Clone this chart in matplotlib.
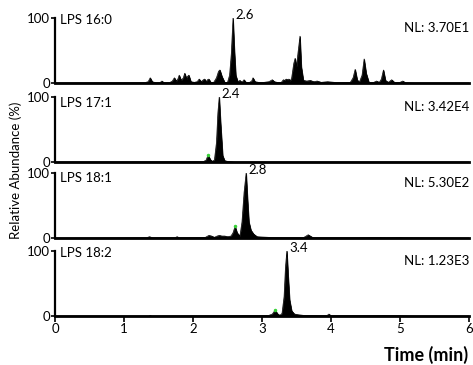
import matplotlib
matplotlib.use("Agg")
import matplotlib.pyplot as plt
import numpy as np

# =========================================================
# DATA
# =========================================================
names = ["LPS 16:0", "LPS 17:1", "LPS 18:1", "LPS 18:2"]
nl_labels = ["NL: 3.70E1", "NL: 3.42E4", "NL: 5.30E2", "NL: 1.23E3"]
peak_labels = ["2.6", "2.4", "2.8", "3.4"]

t_16_0 = [0.0, 1.30, 1.35, 1.38, 1.41, 1.46, 1.52, 1.55, 1.58, 1.66, 1.70, 1.73, 1.76, 1.78,
          1.80, 1.83, 1.86, 1.88, 1.91, 1.92, 1.94, 1.97, 2.02, 2.06, 2.09, 2.12, 2.15, 2.17,
          2.19, 2.21, 2.23, 2.26, 2.30, 2.34, 2.37, 2.39, 2.42, 2.46, 2.50, 2.53, 2.555, 2.58,
          2.60, 2.62, 2.65, 2.68, 2.71, 2.74, 2.77, 2.82, 2.85, 2.87, 2.90, 2.95, 3.03, 3.10,
          3.15, 3.18, 3.22, 3.28, 3.31, 3.33, 3.35, 3.37, 3.39, 3.41, 3.43, 3.46, 3.48, 3.50,
          3.52, 3.55, 3.57, 3.60, 3.65, 3.70, 3.75, 3.80, 3.86, 3.95, 4.10, 4.28, 4.32, 4.35,
          4.38, 4.41, 4.45, 4.48, 4.51, 4.55, 4.62, 4.66, 4.70, 4.73, 4.76, 4.79, 4.83, 4.88,
          4.92, 5.00, 5.04, 5.08, 5.20, 6.0]
y_16_0 = [0, 0.5, 2, 8, 2, 0.5, 0.5, 3, 0.5, 0.5, 3, 8, 3, 6,
          12, 4, 8, 15, 6, 10, 12, 2, 1, 2, 6, 2, 5, 6,
          2, 5, 6, 1, 1, 8, 18, 20, 10, 1, 1, 12, 45, 100,
          50, 12, 2, 4, 1, 5, 1, 1, 3, 8, 2, 1, 1, 2,
          5, 2, 1, 1, 5, 4, 6, 5, 6, 3, 8, 30, 38, 25,
          45, 72, 25, 4, 3, 4, 2, 3, 1, 2, 0.5, 1, 8, 21,
          5, 1, 12, 37, 15, 1, 1, 3, 1, 6, 20, 4, 1, 5,
          1, 1, 3, 0.5, 0, 0]

t_17_1 = [0.0, 2.15, 2.19, 2.22, 2.25, 2.28, 2.31, 2.34, 2.36, 2.38, 2.40, 2.43, 2.46, 2.50, 2.60, 6.0]
y_17_1 = [0, 0.5, 3, 11, 4, 1, 3, 30, 75, 100, 60, 10, 2, 1, 0, 0]

t_18_1 = [0.0, 1.33, 1.37, 1.41, 1.74, 1.77, 1.80, 2.18, 2.23, 2.27, 2.31, 2.35, 2.38, 2.42,
          2.46, 2.50, 2.55, 2.58, 2.61, 2.64, 2.68, 2.71, 2.74, 2.77, 2.79, 2.81, 2.84, 2.88,
          2.93, 3.00, 3.10, 3.30, 3.60, 3.64, 3.67, 3.70, 3.74, 4.00, 4.40, 4.55, 4.70, 4.80,
          5.00, 5.05, 6.0]
y_18_1 = [0, 0.5, 2, 0.5, 0.5, 2, 0.5, 1, 4, 3, 1, 3, 4, 3,
          3, 2, 3, 8, 18, 8, 3, 25, 70, 100, 60, 25, 12, 6,
          2, 1.5, 1, 0.5, 0.5, 3, 5, 3, 0.5, 0.5, 0.5, 1, 1, 0.5,
          1, 0.5, 0]

t_18_2 = [0.0, 1.36, 1.38, 1.40, 2.70, 3.10, 3.15, 3.19, 3.23, 3.26, 3.29, 3.32, 3.34, 3.36,
          3.38, 3.40, 3.43, 3.47, 3.52, 3.60, 3.70, 3.94, 3.97, 4.00, 4.60, 4.75, 5.00, 5.20, 6.0]
y_18_2 = [0, 0, 1, 0, 0.5, 1, 3, 9, 3, 1, 4, 30, 75, 100,
          60, 25, 8, 3, 2, 1, 1, 0.5, 3, 0.5, 0.5, 1, 0.5, 0, 0]

# small green apex markers on the minor peaks
green_t = [None, 2.22, 2.61, 3.19]
green_y = [None, 11, 18, 9]

traces = [(t_16_0, y_16_0), (t_17_1, y_17_1), (t_18_1, y_18_1), (t_18_2, y_18_2)]
x_ticks = [0, 1, 2, 3, 4, 5, 6]

# =========================================================
# PLOT
# =========================================================
plt.rcParams.update({
    "font.family": "Lato",
    "font.size": 9.5,
})

fig = plt.figure(figsize=(4.73, 3.65), dpi=100)

left = 55 / 473
width = (469 - 55) / 473
height = 65 / 365
zero_px = [83, 162, 238, 316]
name_y = [0.97, 0.91, 0.92, 0.97]

for i, (t, y) in enumerate(traces):
    ax = fig.add_axes([left, 1 - zero_px[i] / 365, width, height])
    ax.fill_between(t, y, 0, color="black", linewidth=0.5)
    ax.plot(t, y, color="black", linewidth=0.5)

    if green_t[i] is not None:
        ax.plot(green_t[i], green_y[i], "o", color="#3ad13a", markersize=1.5, zorder=5)

    k = int(np.argmax(y))
    ax.text(t[k] + 0.03, 104, peak_labels[i], fontsize=9.5, va="center", ha="left",
            clip_on=False)
    ax.text(1.0, 0.85, nl_labels[i], transform=ax.transAxes, fontsize=9.5,
            ha="right", va="center")
    ax.text(0.012, name_y[i], names[i], transform=ax.transAxes, fontsize=9.5,
            ha="left", va="center")

    ax.set_xlim(0, 6)
    ax.set_ylim(0, 100)
    ax.set_yticks([0, 100])
    ax.set_yticklabels(["0", "100"])
    ax.spines["top"].set_visible(False)
    ax.spines["right"].set_visible(False)
    ax.spines["left"].set_linewidth(1.6)
    ax.spines["bottom"].set_linewidth(2.0)
    ax.tick_params(axis="y", length=3, width=1.2, pad=0.5, labelsize=9.5)

    if i < 3:
        ax.set_xticks([])
    else:
        ax.set_xticks(x_ticks)
        ax.tick_params(axis="x", length=4, width=1.2, pad=1, labelsize=9.5)

fig.text(0.033, 1 - 170 / 365, "Relative Abundance (%)", rotation=90,
         ha="center", va="center", fontsize=9.5)
fig.text(0.99, 1 - 355 / 365, "Time (min)", ha="right", va="center",
         fontsize=13, fontweight="bold")

fig.savefig("out.png", dpi=100)
